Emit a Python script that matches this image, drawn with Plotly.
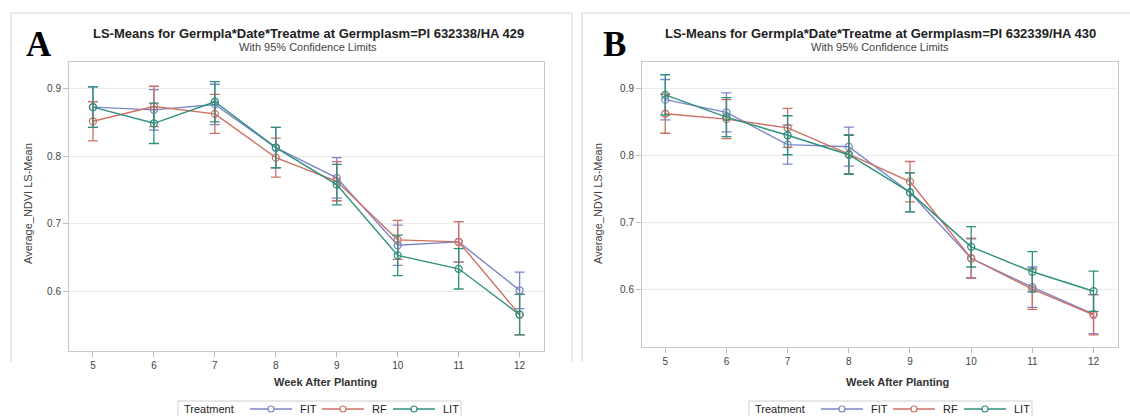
import plotly.graph_objects as go

W, H = 1130, 416

weeks = [5, 6, 7, 8, 9, 10, 11, 12]
treatments = ["FIT", "RF", "LIT"]
colors = {"FIT": "#7b85c6", "RF": "#cf7064", "LIT": "#2e8f7c"}

# Panel A: PI 632338/HA 429
a_mean = {
    "FIT": [0.873, 0.869, 0.877, 0.813, 0.768, 0.668, 0.673, 0.601],
    "RF":  [0.852, 0.874, 0.863, 0.798, 0.763, 0.676, 0.673, 0.565],
    "LIT": [0.873, 0.849, 0.881, 0.813, 0.758, 0.653, 0.633, 0.565],
}
a_half = {
    "FIT": [0.030, 0.030, 0.030, 0.030, 0.030, 0.030, 0.030, 0.027],
    "RF":  [0.029, 0.030, 0.029, 0.029, 0.029, 0.029, 0.030, 0.030],
    "LIT": [0.030, 0.030, 0.030, 0.030, 0.030, 0.030, 0.030, 0.030],
}
# Panel B: PI 632339/HA 430
b_mean = {
    "FIT": [0.883, 0.864, 0.816, 0.813, 0.745, 0.647, 0.604, 0.564],
    "RF":  [0.862, 0.854, 0.841, 0.802, 0.761, 0.647, 0.601, 0.563],
    "LIT": [0.890, 0.857, 0.830, 0.801, 0.745, 0.664, 0.627, 0.598],
}
b_half = {
    "FIT": [0.030, 0.029, 0.029, 0.029, 0.029, 0.029, 0.030, 0.029],
    "RF":  [0.029, 0.029, 0.029, 0.029, 0.030, 0.030, 0.030, 0.030],
    "LIT": [0.030, 0.029, 0.029, 0.029, 0.029, 0.030, 0.030, 0.030],
}

titles = ["LS-Means for Germpla*Date*Treatme at Germplasm=PI 632338/HA 429",
          "LS-Means for Germpla*Date*Treatme at Germplasm=PI 632339/HA 430"]
subtitle = "With 95% Confidence Limits"
panel_letters = ["A", "B"]
y_title = "Average_NDVI LS-Mean"
x_title = "Week After Planting"
legend_title = "Treatment"
y_ticks = [0.6, 0.7, 0.8, 0.9]

FONT = "Liberation Sans, Arial, sans-serif"

def px(x):
    return x / W

def py(y):
    return 1 - y / H

fig = go.Figure()

for pi, (means, halves) in enumerate([(a_mean, a_half), (b_mean, b_half)]):
    xa = "x" if pi == 0 else "x2"
    ya = "y" if pi == 0 else "y2"
    for t in treatments:
        fig.add_trace(go.Scatter(
            x=weeks, y=means[t], xaxis=xa, yaxis=ya, name=t,
            mode="lines+markers",
            line=dict(color=colors[t], width=1.4),
            marker=dict(symbol="circle-open", size=7, color=colors[t],
                        line=dict(width=1.3, color=colors[t])),
            error_y=dict(type="data", array=halves[t], visible=True,
                         color=colors[t], thickness=1.3, width=5),
            showlegend=False,
        ))

axis_common = dict(showline=True, linecolor="#c8c8c8", linewidth=1, mirror=True,
                   ticks="outside", tickcolor="#bdbdbd", ticklen=5,
                   tickfont=dict(family=FONT, size=10, color="#444"), zeroline=False)

fig.update_layout(
    width=W, height=H, margin=dict(l=0, r=0, t=0, b=0),
    paper_bgcolor="white", plot_bgcolor="white", showlegend=False,
    xaxis=dict(domain=[px(69), px(544)], range=[4.607, 12.4], tickvals=weeks,
               showgrid=False, anchor="y", **axis_common),
    yaxis=dict(domain=[py(351), py(62)], range=[0.511, 0.940], tickvals=y_ticks,
               tickformat=".1f", showgrid=True, gridcolor="#ebebeb", anchor="x",
               **axis_common),
    xaxis2=dict(domain=[px(642), px(1118)], range=[4.62, 12.4], tickvals=weeks,
                showgrid=False, anchor="y2", **axis_common),
    yaxis2=dict(domain=[py(347), py(62)], range=[0.515, 0.939], tickvals=y_ticks,
                tickformat=".1f", showgrid=True, gridcolor="#ebebeb", anchor="x2",
                **axis_common),
)

shapes = []
annotations = []
frame = dict(color="#d4d4d4", width=1)
# panel frames
shapes += [
    dict(type="line", xref="paper", yref="paper", x0=px(11), x1=px(11), y0=py(13), y1=py(362), line=frame),
    dict(type="line", xref="paper", yref="paper", x0=px(11), x1=px(572), y0=py(13), y1=py(13), line=frame),
    dict(type="line", xref="paper", yref="paper", x0=px(572), x1=px(572), y0=py(13), y1=py(362), line=frame),
    dict(type="line", xref="paper", yref="paper", x0=px(582), x1=px(582), y0=py(13), y1=py(362), line=frame),
    dict(type="line", xref="paper", yref="paper", x0=px(582), x1=px(1130), y0=py(13), y1=py(13), line=frame),
]

title_cx = [308, 880]
letter_cx = [39, 614]
ytitle_cx = [28, 598]
xtitle_cx = [325, 898]
legend_x0 = [178, 749]

for i in range(2):
    annotations.append(dict(text="<b>" + titles[i] + "</b>", x=px(title_cx[i]), y=py(33),
                            xref="paper", yref="paper", showarrow=False,
                            xanchor="center", yanchor="middle",
                            font=dict(family=FONT, size=13, color="#222")))
    annotations.append(dict(text=subtitle, x=px(title_cx[i]), y=py(47), xref="paper", yref="paper",
                            showarrow=False, xanchor="center", yanchor="middle",
                            font=dict(family=FONT, size=11, color="#444")))
    annotations.append(dict(text="<b>" + panel_letters[i] + "</b>", x=px(letter_cx[i]), y=py(45),
                            xref="paper", yref="paper", showarrow=False,
                            xanchor="center", yanchor="middle",
                            font=dict(family="Liberation Serif, Times New Roman, serif", size=35, color="#000")))
    annotations.append(dict(text=y_title, x=px(ytitle_cx[i]), y=py(204), xref="paper", yref="paper",
                            showarrow=False, textangle=-90, xanchor="center", yanchor="middle",
                            font=dict(family=FONT, size=11, color="#444")))
    annotations.append(dict(text="<b>" + x_title + "</b>", x=px(xtitle_cx[i]), y=py(382), xref="paper",
                            yref="paper", showarrow=False, xanchor="center", yanchor="middle",
                            font=dict(family=FONT, size=11, color="#333")))
    # legend
    x0 = legend_x0[i]
    ly = 409
    shapes.append(dict(type="rect", xref="paper", yref="paper", x0=px(x0), x1=px(x0 + 283),
                       y0=py(401), y1=py(424), line=dict(color="#cfcfcf", width=1),
                       fillcolor="rgba(0,0,0,0)"))
    annotations.append(dict(text=legend_title, x=px(x0 + 4), y=py(ly), xref="paper", yref="paper",
                            showarrow=False, xanchor="left", yanchor="middle",
                            font=dict(family=FONT, size=11, color="#222")))
    lx = x0 + 72
    for t in treatments:
        c = colors[t]
        shapes.append(dict(type="line", xref="paper", yref="paper", x0=px(lx), x1=px(lx + 42),
                           y0=py(ly), y1=py(ly), line=dict(color=c, width=1.4)))
        shapes.append(dict(type="circle", xref="paper", yref="paper", x0=px(lx + 18), x1=px(lx + 24),
                           y0=py(ly + 3), y1=py(ly - 3), line=dict(color=c, width=1.2),
                           fillcolor="white"))
        annotations.append(dict(text=t, x=px(lx + 48), y=py(ly), xref="paper", yref="paper",
                                showarrow=False, xanchor="left", yanchor="middle",
                                font=dict(family=FONT, size=11, color="#222")))
        lx += 72 if t != "RF" else 71

fig.update_layout(shapes=shapes, annotations=annotations)
fig.write_html("out.html", config={"displayModeBar": False},
               post_script="document.body.style.margin='0';document.body.style.overflow='hidden';")
